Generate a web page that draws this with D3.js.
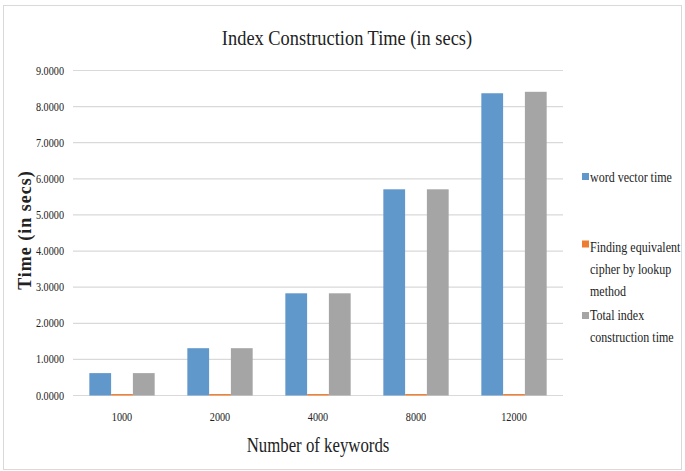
<!DOCTYPE html>
<html>
<head>
<meta charset="utf-8">
<script src="https://cdn.jsdelivr.net/npm/d3@7"></script>
<style>
  body { margin: 0; background: #fff; }
  text { font-family: "Liberation Serif", "Times New Roman", serif; fill: #222; }
</style>
</head>
<body>
<svg id="chart" width="685" height="471"></svg>
<script>
const categories = ["1000", "2000", "4000", "8000", "12000"];
const wordVector = [0.62, 1.31, 2.83, 5.71, 8.37];
const lookup = [0.04, 0.04, 0.04, 0.04, 0.04];
const total = [0.62, 1.31, 2.83, 5.71, 8.41];
const yTicks = [0, 1, 2, 3, 4, 5, 6, 7, 8, 9];
const colors = ["#6198cc", "#ed7d31", "#a5a5a5"];

const svg = d3.select("#chart");
const width = 685, height = 471;
const margin = { left: 73, right: 122, top: 70.5, bottom: 75.5 };

// condensed text: draw at origin and squeeze horizontally with a transform
const addText = (sel, x, y, k) => sel
  .attr("x", 0).attr("y", 0)
  .attr("transform", (d, i) => {
    const xx = typeof x === "function" ? x(d, i) : x;
    const yy = typeof y === "function" ? y(d, i) : y;
    return `translate(${xx},${yy}) scale(${k},1)`;
  });

// outer frame
svg.append("rect")
  .attr("x", 3.5).attr("y", 5.5)
  .attr("width", 678).attr("height", 464)
  .attr("fill", "#fff").attr("stroke", "#d9d9d9");

const x0 = d3.scaleBand()
  .domain(categories)
  .range([margin.left, width - margin.right])
  .paddingInner(1 / 3)
  .paddingOuter(1 / 6);
const x1 = d3.scaleBand().domain([0, 1, 2]).range([0, x0.bandwidth()]);
const y = d3.scaleLinear().domain([0, 9]).range([height - margin.bottom, margin.top]);

// grid lines
svg.append("g")
  .selectAll("line")
  .data(yTicks)
  .join("line")
  .attr("x1", margin.left).attr("x2", width - margin.right)
  .attr("y1", d => y(d)).attr("y2", d => y(d))
  .attr("stroke", "#d9d9d9").attr("stroke-width", 1.2);

// y tick labels
svg.append("g")
  .selectAll("text")
  .data(yTicks)
  .join("text")
  .call(addText, 64, d => y(d) + 4, 0.85)
  .attr("text-anchor", "end")
  .attr("font-size", 12)
  .text(d => d3.format(".4f")(d));

// bars
const rows = categories.map((c, i) => ({ cat: c, vals: [wordVector[i], lookup[i], total[i]] }));
svg.append("g")
  .selectAll("g")
  .data(rows)
  .join("g")
  .attr("transform", d => `translate(${x0(d.cat)},0)`)
  .selectAll("rect")
  .data(d => d.vals.map((v, j) => ({ v, j })))
  .join("rect")
  .attr("x", d => x1(d.j))
  .attr("width", x1.bandwidth())
  .attr("y", d => y(d.v))
  .attr("height", d => y(0) - y(d.v))
  .attr("fill", d => colors[d.j]);

// x tick labels
svg.append("g")
  .selectAll("text")
  .data(categories)
  .join("text")
  .call(addText, d => x0(d) + x0.bandwidth() / 2, 421, 0.85)
  .attr("text-anchor", "middle")
  .attr("font-size", 12)
  .text(d => d);

// titles
svg.append("text")
  .call(addText, 347, 45, 0.92)
  .attr("text-anchor", "middle")
  .attr("font-size", 20)
  .text("Index  Construction Time (in secs)");

svg.append("text")
  .call(addText, 318, 452, 0.84)
  .attr("text-anchor", "middle")
  .attr("font-size", 20)
  .text("Number of keywords");

svg.append("text")
  .attr("transform", "translate(31,230) rotate(-90)")
  .attr("text-anchor", "middle")
  .attr("font-size", 18)
  .attr("font-weight", "bold")
  .attr("letter-spacing", 1)
  .text("Time (in secs)");

// legend
const legendItems = [
  { sq: 176.5, lines: ["word vector time"], y0: 182 },
  { sq: 244, lines: ["Finding equivalent", "cipher by lookup", "method"], y0: 251.5 },
  { sq: 315.5, lines: ["Total index", "construction time"], y0: 320 }
];
const leg = svg.append("g")
  .selectAll("g")
  .data(legendItems)
  .join("g");
leg.append("rect")
  .attr("x", 582).attr("y", d => d.sq - 3.5)
  .attr("width", 7).attr("height", 7)
  .attr("fill", (d, i) => colors[i]);
leg.each(function (d) {
  d3.select(this).selectAll("text")
    .data(d.lines)
    .join("text")
    .call(addText, 590, (t, k) => d.y0 + k * 22, 0.8)
    .attr("font-size", 15)
    .text(t => t);
});
</script>
</body>
</html>
